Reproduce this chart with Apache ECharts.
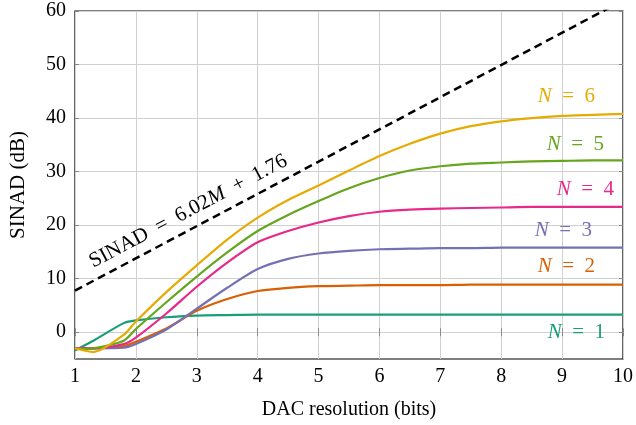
<!DOCTYPE html>
<html>
<head>
<meta charset="utf-8">
<script src="https://cdn.jsdelivr.net/npm/echarts@6/dist/echarts.min.js"></script>
<style>
  html, body { margin: 0; padding: 0; background: #fff; }
  #chart { width: 636px; height: 425px; }
</style>
</head>
<body>
<div id="chart"></div>
<script>
// DAC resolution (bits)
const bits = [1, 1.3, 1.8, 2, 2.5, 3, 3.5, 4, 4.5, 5, 5.5, 6, 6.5, 7, 7.5, 8, 8.5, 9, 9.5, 10]
// SINAD (dB) per N
const sinadN1 = [-3.4, -1.6, 1.7, 2.2, 2.8, 3.1, 3.2, 3.3, 3.3, 3.3, 3.3, 3.3, 3.3, 3.3, 3.3, 3.3, 3.3, 3.3, 3.3, 3.3]
const sinadN2 = [-3.0, -3.0, -2.6, -1.8, 0.7, 4.0, 6.2, 7.7, 8.3, 8.6, 8.7, 8.8, 8.8, 8.8, 8.9, 8.9, 8.9, 8.9, 8.9, 8.9]
const sinadN3 = [-3.0, -3.0, -2.9, -2.2, 0.5, 4.4, 8.3, 11.8, 13.7, 14.7, 15.2, 15.5, 15.6, 15.7, 15.7, 15.8, 15.8, 15.8, 15.8, 15.8]
const sinadN4 = [-3.0, -3.0, -2.2, -1.0, 3.5, 8.5, 13.0, 16.8, 18.9, 20.5, 21.7, 22.5, 22.9, 23.1, 23.2, 23.3, 23.4, 23.4, 23.4, 23.4]
const sinadN5 = [-3.1, -3.0, -1.6, 0.6, 5.6, 10.4, 14.9, 18.9, 21.9, 24.5, 26.9, 28.8, 30.2, 31.0, 31.5, 31.7, 31.9, 32.0, 32.1, 32.1]
const sinadN6 = [-3.0, -3.7, -0.5, 2.0, 7.5, 12.5, 17.3, 21.4, 24.7, 27.4, 30.2, 32.9, 35.2, 37.1, 38.5, 39.4, 40.0, 40.4, 40.6, 40.8]
const seriesNames = ['N = 1', 'N = 2', 'N = 3', 'N = 4', 'N = 5', 'N = 6']
const seriesValues = [sinadN1, sinadN2, sinadN3, sinadN4, sinadN5, sinadN6]
// ideal bound SINAD = 6.02M + 1.76, end points
const boundBits = [1, 10]
const boundSinad = [7.78, 61.96]
const xTicks = [1, 2, 3, 4, 5, 6, 7, 8, 9, 10]
const yTicks = [0, 10, 20, 30, 40, 50, 60]

const colors = ['#1b9e77', '#d95f02', '#7570b3', '#e7298a', '#66a61e', '#e6ab02']
// label offsets from the line end (px)
const labelOffsets = [[-18, 18], [-28, -18], [-31, -17], [-9, -17], [-19, -16], [-28, -17]]

const serif = 'Liberation Serif'
const myChart = echarts.init(document.getElementById('chart'))

const lineSeries = seriesNames.map((name, i) => ({
  name: name,
  type: 'line',
  showSymbol: false,
  symbol: 'none',
  smooth: 0.25,
  lineStyle: { width: 2.2, color: colors[i] },
  itemStyle: { color: colors[i] },
  endLabel: {
    show: true,
    formatter: () => '{i|N}  =  ' + (i + 1),
    align: 'right',
    verticalAlign: 'middle',
    distance: 0,
    offset: labelOffsets[i],
    color: colors[i],
    fontFamily: serif,
    fontSize: 21,
    rich: {
      i: { fontFamily: serif, fontStyle: 'italic', fontSize: 21, color: colors[i] }
    }
  },
  data: bits.map((b, k) => [b, seriesValues[i][k]]),
  z: 3
}))

let option = {
  animation: false,
  grid: {
    left: 75,
    right: 10,
    top: 11,
    bottom: 65,
    show: true,
    borderColor: '#000',
    borderWidth: 1.2,
    backgroundColor: 'transparent'
  },
  xAxis: [
    {
      type: 'value',
      min: 1,
      max: 10,
      interval: 1,
      name: 'DAC resolution (bits)',
      nameLocation: 'middle',
      nameGap: 41,
      nameTextStyle: { fontFamily: serif, fontSize: 20, color: '#000' },
      axisLine: { show: false },
      axisTick: { show: true, inside: true, length: 4, lineStyle: { color: '#888' } },
      axisLabel: { fontFamily: serif, fontSize: 20, color: '#000', margin: 8 },
      splitLine: { show: true, lineStyle: { color: '#d0d0d0', width: 1 } }
    },
    {
      type: 'value',
      position: 'top',
      min: 1,
      max: 10,
      interval: 1,
      axisLine: { show: false },
      axisTick: { show: true, inside: true, length: 4, lineStyle: { color: '#888' } },
      axisLabel: { show: false },
      splitLine: { show: false }
    }
  ],
  yAxis: [
    {
      type: 'value',
      min: -5,
      max: 60,
      name: 'SINAD (dB)',
      nameLocation: 'middle',
      nameGap: 46,
      nameTextStyle: { fontFamily: serif, fontSize: 21, color: '#000' },
      axisLine: { show: false },
      axisTick: { show: true, inside: true, length: 4, customValues: yTicks, lineStyle: { color: '#888' } },
      axisLabel: { fontFamily: serif, fontSize: 20, color: '#000', margin: 9, customValues: yTicks },
      splitLine: { show: true, lineStyle: { color: '#d0d0d0', width: 1 } }
    },
    {
      type: 'value',
      position: 'right',
      min: -5,
      max: 60,
      axisLine: { show: false },
      axisTick: { show: true, inside: true, length: 4, customValues: yTicks, lineStyle: { color: '#888' } },
      axisLabel: { show: false },
      splitLine: { show: false }
    }
  ],
  series: [
    {
      name: 'bound',
      type: 'line',
      symbol: 'none',
      lineStyle: { width: 2.5, color: '#000', type: [8, 5] },
      data: boundBits.map((b, k) => [b, boundSinad[k]]),
      z: 4
    },
    ...lineSeries
  ]
}

myChart.setOption(option)

// equation label along the dashed bound line
const p0 = myChart.convertToPixel({ seriesIndex: 0 }, [boundBits[0], boundSinad[0]])
const p1 = myChart.convertToPixel({ seriesIndex: 0 }, [boundBits[1], boundSinad[1]])
const angle = Math.atan2(p0[1] - p1[1], p1[0] - p0[0])
const t = 0.2214
const mx = p0[0] + (p1[0] - p0[0]) * t
const my = p0[1] + (p1[1] - p0[1]) * t
const up = 17
myChart.setOption({
  graphic: [{
    type: 'text',
    x: mx - Math.sin(angle) * up,
    y: my - Math.cos(angle) * up,
    rotation: angle,
    style: {
      text: 'SINAD  =  6.02{i|M}  +  1.76',
      fontFamily: serif,
      fontSize: 21,
      fill: '#000',
      align: 'center',
      verticalAlign: 'middle',
      rich: { i: { fontFamily: serif, fontStyle: 'italic', fontSize: 21 } }
    },
    z: 10
  }]
})
</script>
</body>
</html>
